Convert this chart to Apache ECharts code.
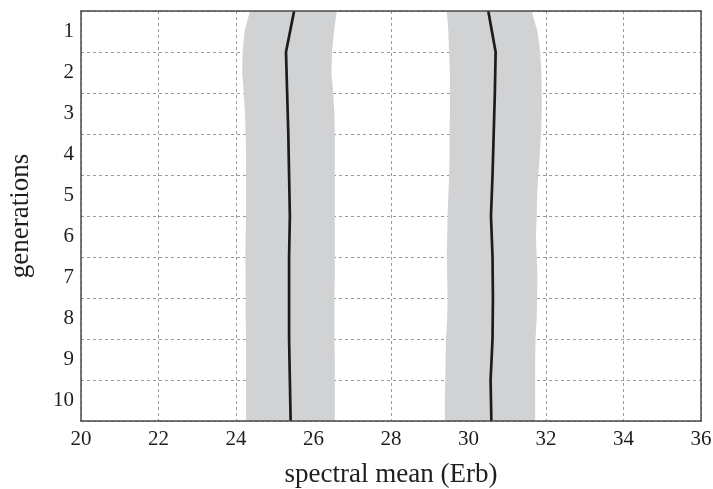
<!DOCTYPE html>
<html>
<head>
<meta charset="utf-8">
<script src="https://cdn.jsdelivr.net/npm/echarts@6/dist/echarts.min.js"></script>
<style>
html,body{margin:0;padding:0;background:#fff;}
#chart{width:713px;height:489px;}
</style>
</head>
<body>
<div id="chart"></div>
<script>
// generation labels (band centres) and boundary positions 0..10
var generations = ['1','2','3','4','5','6','7','8','9','10'];
var xTicks = [20,22,24,26,28,30,32,34,36];
// mean lines, one value at each generation boundary 0..10
var meanA = [25.50, 25.29, 25.32, 25.35, 25.37, 25.39, 25.37, 25.37, 25.37, 25.39, 25.41];
var meanB = [30.51, 30.70, 30.68, 30.65, 30.62, 30.58, 30.62, 30.63, 30.62, 30.57, 30.59];
// band edges at half-boundary steps 0, 0.5, ..., 10
var bandALeft  = [24.36, 24.22, 24.17, 24.16, 24.20, 24.23, 24.25, 24.26, 24.26, 24.26, 24.26, 24.25, 24.24, 24.25, 24.25, 24.25, 24.26, 24.26, 24.26, 24.26, 24.26];
var bandARight = [26.60, 26.53, 26.48, 26.46, 26.51, 26.54, 26.55, 26.55, 26.55, 26.55, 26.55, 26.55, 26.55, 26.55, 26.54, 26.54, 26.54, 26.55, 26.55, 26.55, 26.55];
var bandBLeft  = [29.44, 29.48, 29.50, 29.52, 29.52, 29.52, 29.51, 29.51, 29.50, 29.48, 29.46, 29.45, 29.44, 29.45, 29.46, 29.45, 29.42, 29.41, 29.40, 29.39, 29.39];
var bandBRight = [31.63, 31.78, 31.85, 31.88, 31.89, 31.89, 31.87, 31.84, 31.80, 31.77, 31.76, 31.74, 31.76, 31.78, 31.77, 31.76, 31.73, 31.72, 31.72, 31.72, 31.72];

var bands = [[bandALeft, bandARight], [bandBLeft, bandBRight]];
var FONT = 'Liberation Serif';
var TXT = '#1e1e1e';
var BORDER = {show:true, lineStyle:{color:'#4a4a4a', width:1.5}};
var DASH = {show:true, lineStyle:{color:'#9a9a9a', width:1, type:[3,3]}};

function linePoints(arr){ return arr.map(function(x,i){ return [x, i]; }); }

var chart = echarts.init(document.getElementById('chart'), null, {renderer:'canvas'});
chart.setOption({
  animation:false,
  backgroundColor:'#fff',
  grid:{left:81, right:12, top:11, bottom:68, containLabel:false, outerBoundsMode:'none'},
  xAxis:[
    {type:'value', min:20, max:36, interval:2, position:'bottom',
     axisLine:{show:false}, axisTick:{show:false},
     axisLabel:{margin:8, fontFamily:FONT, fontSize:21, color:TXT,
       formatter:function(v){ return xTicks.indexOf(v) >= 0 ? String(v) : ''; }},
     splitLine:DASH,
     name:'spectral mean (Erb)', nameLocation:'middle', nameGap:40,
     nameTextStyle:{fontFamily:FONT, fontSize:27, color:TXT}},
    {type:'value', min:20, max:36, position:'top', z:10,
     axisLine:BORDER, axisTick:{show:false}, axisLabel:{show:false}, splitLine:{show:false}},
    {type:'value', min:20, max:36, position:'bottom', z:10,
     axisLine:BORDER, axisTick:{show:false}, axisLabel:{show:false}, splitLine:{show:false}}
  ],
  yAxis:[
    {type:'value', min:0, max:10, interval:1, inverse:true, position:'left',
     axisLine:BORDER, axisTick:{show:false}, axisLabel:{show:false},
     splitLine:DASH,
     name:'generations', nameLocation:'middle', nameGap:47,
     nameTextStyle:{fontFamily:FONT, fontSize:27, color:TXT}},
    {type:'category', data:generations, inverse:true, position:'left', boundaryGap:true,
     axisLine:{show:false}, axisTick:{show:false}, splitLine:{show:false},
     axisLabel:{margin:7, fontFamily:FONT, fontSize:21, color:TXT}},
    {type:'value', min:0, max:10, inverse:true, position:'right', z:10,
     axisLine:BORDER, axisTick:{show:false}, axisLabel:{show:false}, splitLine:{show:false}}
  ],
  series:[
    {type:'custom', xAxisIndex:0, yAxisIndex:0, z:2,
     data:[[meanA[5], 5], [meanB[5], 5]],
     renderItem:function(params, api){
       var b = bands[params.dataIndex];
       var pts = [];
       var i;
       for (i = 0; i < b[0].length; i++) pts.push(api.coord([b[0][i], i/2]));
       for (i = b[1].length - 1; i >= 0; i--) pts.push(api.coord([b[1][i], i/2]));
       return {type:'polygon', shape:{points:pts}, style:{fill:'#d1d2d4', stroke:null}};
     }},
    {type:'line', xAxisIndex:0, yAxisIndex:0, z:3, data:linePoints(meanA),
     symbol:'none', lineStyle:{color:'#1c1c1c', width:2.7}},
    {type:'line', xAxisIndex:0, yAxisIndex:0, z:3, data:linePoints(meanB),
     symbol:'none', lineStyle:{color:'#1c1c1c', width:2.7}}
  ]
});
</script>
</body>
</html>
